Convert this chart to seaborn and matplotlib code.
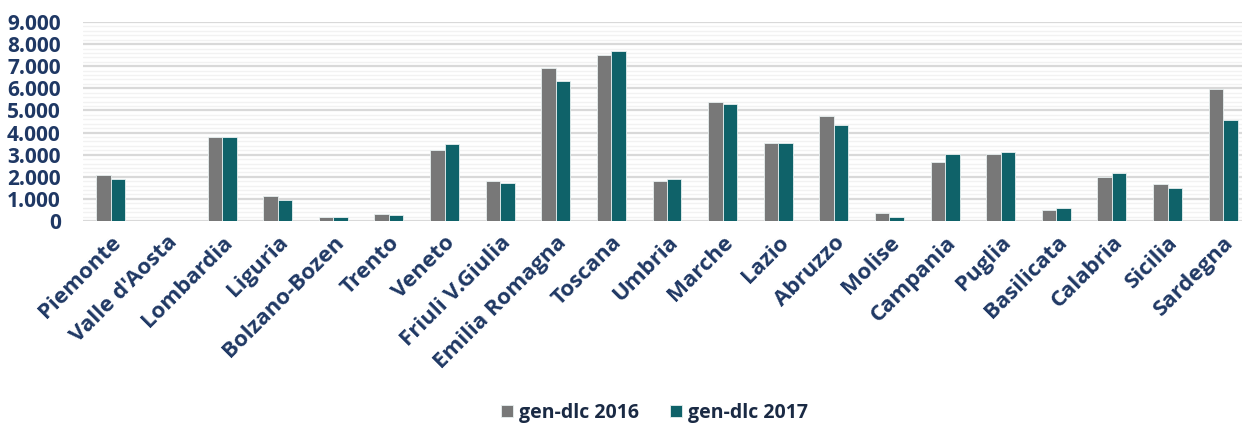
"""
Generazione distribuita per regione: gen-dlc 2016 vs 2017
"""
import pandas as pd
import matplotlib.pyplot as plt
import matplotlib.ticker as mticker
import seaborn as sns

# Dati
regioni = ['Piemonte', "Valle d'Aosta", 'Lombardia', 'Liguria', 'Bolzano-Bozen',
           'Trento', 'Veneto', 'Friuli V.Giulia', 'Emilia Romagna', 'Toscana',
           'Umbria', 'Marche', 'Lazio', 'Abruzzo', 'Molise', 'Campania', 'Puglia',
           'Basilicata', 'Calabria', 'Sicilia', 'Sardegna']
gen_2016 = [2090, 0, 3810, 1130, 170, 335, 3200, 1830, 6940, 7530, 1810,
            5370, 3550, 4770, 350, 2680, 3030, 520, 2000, 1660, 5980]
gen_2017 = [1900, 0, 3820, 950, 170, 260, 3480, 1740, 6330, 7710, 1900,
            5290, 3550, 4340, 170, 3030, 3120, 610, 2180, 1480, 4590]
serie = ['gen-dlc 2016', 'gen-dlc 2017']
colori = ['#787878', '#006e78']

df = pd.DataFrame({
    'regione': regioni * 2,
    'serie': [serie[0]] * len(regioni) + [serie[1]] * len(regioni),
    'valore': gen_2016 + gen_2017,
})

sns.set_style('white')
plt.rcParams['font.family'] = ['Open Sans', 'DejaVu Sans']
navy = '#1f3864'

fig = plt.figure(figsize=(12.42, 4.24), dpi=100)
ax = fig.add_axes([83 / 1242, 1 - 221 / 424, (1251 - 83) / 1242, (221 - 22) / 424])

sns.barplot(data=df, x='regione', y='valore', hue='serie', palette=colori,
            width=0.52, edgecolor='#e8f0f0', linewidth=0.6, ax=ax, zorder=3)

ax.set_xlim(-0.5, len(regioni) - 0.5)
ax.set_ylim(0, 9000)
ax.yaxis.set_major_locator(mticker.MultipleLocator(1000))
ax.yaxis.set_minor_locator(mticker.MultipleLocator(200))
ax.yaxis.set_major_formatter(mticker.FuncFormatter(lambda v, p: f'{v:,.0f}'.replace(',', '.')))
ax.grid(axis='y', which='major', color='#d9d9d9', linewidth=1.6, zorder=0)
ax.grid(axis='y', which='minor', color='#f2f2f2', linewidth=1.0, zorder=0)
ax.set_axisbelow(True)
for s in ax.spines.values():
    s.set_visible(False)

ax.set_xlabel('')
ax.set_ylabel('')
ax.tick_params(axis='both', length=0)
ax.tick_params(axis='y', pad=16)
for lab in ax.get_yticklabels():
    lab.set_fontsize(15)
    lab.set_fontweight('bold')
    lab.set_color(navy)
ax.set_xticks(range(len(regioni)))
ax.set_xticklabels(regioni, rotation=45, ha='right', rotation_mode='anchor',
                   fontsize=16, fontweight='bold', color=navy)
ax.tick_params(axis='x', pad=8)

handles, labels = ax.get_legend_handles_labels()
ax.legend_.remove()
fig.legend(handles, labels, loc='center', bbox_to_anchor=(0.527, 0.026), ncol=2,
           frameon=False, handlelength=0.6, handleheight=0.6, handletextpad=0.3,
           columnspacing=1.6, prop={'weight': 'bold', 'size': 14}, labelcolor='#1a2a44')

fig.savefig('out.png', dpi=100)
plt.close(fig)
